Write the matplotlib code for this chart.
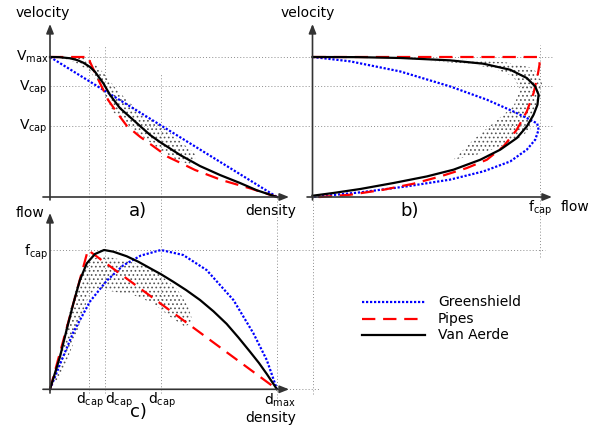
import matplotlib
matplotlib.use("Agg")
import matplotlib.pyplot as plt
from matplotlib.lines import Line2D

plt.rcParams['mathtext.fontset'] = 'dejavusans'
plt.rcParams['hatch.linewidth'] = 0.7
plt.rcParams['font.family'] = ['DejaVu Sans']

# ---------------- data (normalised: d_max = v_max = f_cap = 1) ----------------
# panel a: velocity vs density
gs_a_density = [0.0, 1.0]
gs_a_velocity = [1.0, 0.0]
pipes_a_density = [0.0, 0.172, 0.176, 0.203, 0.228, 0.256, 0.308, 0.339, 0.396,
                   0.448, 0.520, 0.573, 0.639, 0.756, 0.881, 1.0]
pipes_a_velocity = [1.0, 1.0, 0.966, 0.871, 0.788, 0.693, 0.574, 0.507, 0.431,
                    0.371, 0.286, 0.245, 0.193, 0.121, 0.062, 0.0]
va_a_density = [0.0, 0.04, 0.088, 0.12, 0.147, 0.175, 0.198, 0.235, 0.264, 0.308, 0.367,
                0.396, 0.441, 0.485, 0.514, 0.573, 0.661, 0.749, 0.837, 0.911, 1.0]
va_a_velocity = [1.0, 0.999, 0.991, 0.978, 0.959, 0.93, 0.895, 0.812, 0.73, 0.635, 0.55,
                 0.508, 0.443, 0.392, 0.362, 0.30, 0.221, 0.157, 0.10, 0.048, 0.0]
cloud_a_density = [0.044, 0.145, 0.207, 0.251, 0.295, 0.366, 0.441, 0.507, 0.573, 0.639,
                   0.639, 0.586, 0.542, 0.471, 0.396, 0.339, 0.278, 0.242, 0.211, 0.176,
                   0.106, 0.044]
cloud_a_velocity = [1.014, 0.996, 0.936, 0.857, 0.764, 0.65, 0.557, 0.486, 0.40, 0.307,
                    0.214, 0.25, 0.279, 0.357, 0.443, 0.521, 0.607, 0.70, 0.807, 0.90,
                    0.964, 0.993]

# panel b: velocity vs flow
gs_b_flow = [0.0, 0.166, 0.386, 0.606, 0.768, 0.885, 0.959, 0.99, 0.996, 0.981, 0.944,
             0.871, 0.753, 0.606, 0.416, 0.210, 0.0]
gs_b_velocity = [1.0, 0.969, 0.897, 0.79, 0.695, 0.611, 0.552, 0.525, 0.48, 0.409, 0.338,
                 0.254, 0.183, 0.124, 0.076, 0.033, 0.0]
pipes_b_flow = [0.0, 1.0, 1.0, 0.991, 0.974, 0.944, 0.900, 0.841, 0.768, 0.680,
                0.563, 0.445, 0.313, 0.166, 0.034, 0.0]
pipes_b_velocity = [1.0, 1.0, 0.945, 0.861, 0.743, 0.611, 0.481, 0.361, 0.266, 0.207,
                    0.147, 0.095, 0.052, 0.016, 0.0, 0.0]
va_b_flow = [0.0, 0.2, 0.386, 0.606, 0.753, 0.871, 0.944, 0.981, 0.996, 0.991, 0.974,
             0.944, 0.900, 0.827, 0.739, 0.621, 0.504, 0.357, 0.210, 0.093, 0.0]
va_b_velocity = [1.0, 0.999, 0.993, 0.976, 0.952, 0.909, 0.85, 0.79, 0.731, 0.659, 0.588,
                 0.504, 0.421, 0.338, 0.266, 0.195, 0.147, 0.10, 0.057, 0.029, 0.009]
cloud_b_flow = [0.386, 0.680, 0.856, 0.974, 1.011, 1.003, 0.974, 0.959, 0.900, 0.827,
                0.724, 0.621, 0.709, 0.797, 0.885, 0.915, 0.885, 0.797, 0.651, 0.460]
cloud_b_velocity = [0.993, 0.981, 0.961, 0.921, 0.814, 0.695, 0.576, 0.481, 0.409, 0.361,
                    0.302, 0.266, 0.409, 0.529, 0.647, 0.766, 0.861, 0.921, 0.957, 0.976]

# panel c: flow vs density
gs_c_density = [0.0, 0.044, 0.103, 0.176, 0.25, 0.323, 0.40, 0.489, 0.587, 0.69,
                0.808, 0.896, 0.955, 1.0]
gs_c_flow = [0.0, 0.18, 0.41, 0.63, 0.78, 0.89, 0.96, 1.0, 0.964, 0.856,
             0.641, 0.402, 0.21, 0.0]
pipes_c_density = [0.0, 0.167, 1.0]
pipes_c_flow = [0.0, 1.0, 0.0]
va_c_density = [0.0, 0.044, 0.073, 0.103, 0.132, 0.162, 0.198, 0.238, 0.279, 0.338,
                0.39, 0.441, 0.49, 0.543, 0.60, 0.661, 0.72, 0.778, 0.83, 0.881,
                0.92, 0.955, 1.0]
va_c_flow = [0.0, 0.234, 0.426, 0.617, 0.785, 0.904, 0.971, 1.0, 0.988, 0.955,
             0.915, 0.869, 0.825, 0.772, 0.712, 0.641, 0.56, 0.47, 0.372, 0.27,
             0.19, 0.11, 0.0]
cloud_c_density = [0.015, 0.052, 0.088, 0.125, 0.154, 0.191, 0.250, 0.323, 0.411, 0.485,
                   0.558, 0.609, 0.629, 0.595, 0.529, 0.455, 0.367, 0.279, 0.206, 0.169,
                   0.140, 0.103, 0.059, 0.030]
cloud_c_flow = [0.067, 0.330, 0.569, 0.785, 0.892, 0.940, 0.952, 0.928, 0.892, 0.821,
                0.725, 0.593, 0.485, 0.449, 0.521, 0.617, 0.677, 0.701, 0.725, 0.665,
                0.521, 0.330, 0.139, 0.043]

# reference values
v_max, v_cap_va, v_cap_gs = 1.0, 0.79, 0.51
d_cap_pipes, d_cap_va, d_cap_gs, d_max = 0.17, 0.243, 0.489, 1.0
f_cap = 1.0

legend_labels = ["Greenshield", "Pipes", "Van Aerde"]

# ---------------- styles ----------------
BLUE = dict(color="#0000ff", lw=1.6, ls=(0, (1, 0.8)))
RED = dict(color="#ff0000", lw=1.6, ls=(0, (6, 3.5)))
BLACK = dict(color="black", lw=1.6, ls="-")
GUIDE = dict(color="#8c8c8c", lw=0.7, ls=(0, (1, 2.2)), clip_on=False, zorder=0)
AXC = "#333333"

W, H = 600, 428
fig = plt.figure(figsize=(6, 4.28), dpi=100)


def add_ax(x0, ybot, x1, ytop):
    ax = fig.add_axes([x0 / W, (H - ybot) / H, (x1 - x0) / W, (ybot - ytop) / H])
    ax.set_xlim(0, 1)
    ax.set_ylim(0, 1)
    ax.axis("off")
    return ax


ax_a = add_ax(50, 197, 277, 57)
ax_b = add_ax(312.5, 197, 539.5, 57)
ax_c = add_ax(50, 389.3, 277, 250)


def arrow(ax, x0, y0, x1, y1):
    ax.annotate("", xy=(x1, y1), xytext=(x0, y0), xycoords="axes fraction",
                arrowprops=dict(arrowstyle="-|>,head_length=0.55,head_width=0.22",
                                color=AXC, lw=1.2, shrinkA=0, shrinkB=0),
                annotation_clip=False, zorder=5)


def ftext(x, y, s, **kw):
    fig.text(x / W, 1 - y / H, s, **kw)


# guides
for v in (v_max, v_cap_va, v_cap_gs):
    ax_a.plot([0, 2.216], [v, v], **GUIDE)
for d in (d_cap_pipes, d_cap_va):
    ax_a.plot([d, d], [0, 1.086], **GUIDE)
ax_a.plot([d_cap_gs, d_cap_gs], [0, 0.879], **GUIDE)
for d in (d_cap_pipes, d_cap_va, d_cap_gs):
    ax_c.plot([d, d], [-0.03, 1.38], **GUIDE)
ax_c.plot([d_max, d_max], [-0.06, 1.38], **GUIDE)
ax_b.plot([f_cap, f_cap], [-0.43, 1.086], **GUIDE)
ax_b.plot([0, 0], [-1.41, 0], **GUIDE)
ax_c.plot([0, 2.18], [f_cap, f_cap], **GUIDE)
ax_c.plot([d_max, 1.19], [0, 0], **GUIDE)

# clouds (stippled regions)
for ax, xs, ys in ((ax_a, cloud_a_density, cloud_a_velocity),
                   (ax_b, cloud_b_flow, cloud_b_velocity),
                   (ax_c, cloud_c_density, cloud_c_flow)):
    ax.fill(xs, ys, facecolor="none", edgecolor="#555555", hatch="....",
            lw=0, zorder=1, clip_on=False)

# curves
ax_a.plot(gs_a_density, gs_a_velocity, clip_on=False, zorder=2, **BLUE)
ax_a.plot(pipes_a_density, pipes_a_velocity, clip_on=False, zorder=3, **RED)
ax_a.plot(va_a_density, va_a_velocity, clip_on=False, zorder=4, **BLACK)
ax_b.plot(gs_b_flow, gs_b_velocity, clip_on=False, zorder=2, **BLUE)
ax_b.plot(pipes_b_flow, pipes_b_velocity, clip_on=False, zorder=3, **RED)
ax_b.plot(va_b_flow, va_b_velocity, clip_on=False, zorder=4, **BLACK)
ax_c.plot(gs_c_density, gs_c_flow, clip_on=False, zorder=2, **BLUE)
ax_c.plot(pipes_c_density, pipes_c_flow, clip_on=False, zorder=3, **RED)
ax_c.plot(va_c_density, va_c_flow, clip_on=False, zorder=4, **BLACK)

# axes arrows
arrow(ax_a, -0.031, 0, 1.053, 0)
arrow(ax_a, 0, -0.021, 0, 1.236)
arrow(ax_b, -0.024, 0, 1.055, 0)
arrow(ax_b, 0, -0.021, 0, 1.236)
arrow(ax_c, -0.031, 0, 1.053, 0)
arrow(ax_c, 0, -0.027, 0, 1.266)

FS = 10
# tick-like labels
ax_a.text(-0.005, v_max, r"V$_{\mathrm{max}}$", ha="right", va="center", fontsize=FS)
ax_a.text(-0.01, v_cap_va - 0.01, r"V$_{\mathrm{cap}}$", ha="right", va="center", fontsize=FS)
ax_a.text(-0.01, v_cap_gs - 0.01, r"V$_{\mathrm{cap}}$", ha="right", va="center", fontsize=FS)
ax_b.text(f_cap, -0.08, r"f$_{\mathrm{cap}}$", ha="center", va="center", fontsize=FS)
ax_c.text(-0.01, f_cap - 0.02, r"f$_{\mathrm{cap}}$", ha="right", va="center", fontsize=FS)
ax_c.text(d_cap_pipes + 0.005, -0.08, r"d$_{\mathrm{cap}}$", ha="center", va="center", fontsize=FS)
ax_c.text(d_cap_va + 0.06, -0.08, r"d$_{\mathrm{cap}}$", ha="center", va="center", fontsize=FS)
ax_c.text(d_cap_gs + 0.005, -0.08, r"d$_{\mathrm{cap}}$", ha="center", va="center", fontsize=FS)
ax_c.text(d_max + 0.013, -0.08, r"d$_{\mathrm{max}}$", ha="center", va="center", fontsize=FS)

# axis titles
ftext(43, 13, "velocity", ha="center", va="center", fontsize=FS)
ftext(308, 13, "velocity", ha="center", va="center", fontsize=FS)
ftext(271, 211, "density", ha="center", va="center", fontsize=FS)
ftext(575, 207, "flow", ha="center", va="center", fontsize=FS)
ftext(30, 213, "flow", ha="center", va="center", fontsize=FS)
ftext(271, 418, "density", ha="center", va="center", fontsize=FS)
ftext(138, 211, "a)", ha="center", va="center", fontsize=13)
ftext(410, 211, "b)", ha="center", va="center", fontsize=13)
ftext(138, 412, "c)", ha="center", va="center", fontsize=13)

# legend
for i, (lab, sty) in enumerate(zip(legend_labels, (BLUE, RED, BLACK))):
    y = 302 + i * 16.5
    fig.add_artist(Line2D([362 / W, 425 / W], [1 - y / H, 1 - y / H],
                          transform=fig.transFigure, **sty))
    ftext(438, y, lab, ha="left", va="center", fontsize=FS)

fig.savefig("out.png", dpi=100)
